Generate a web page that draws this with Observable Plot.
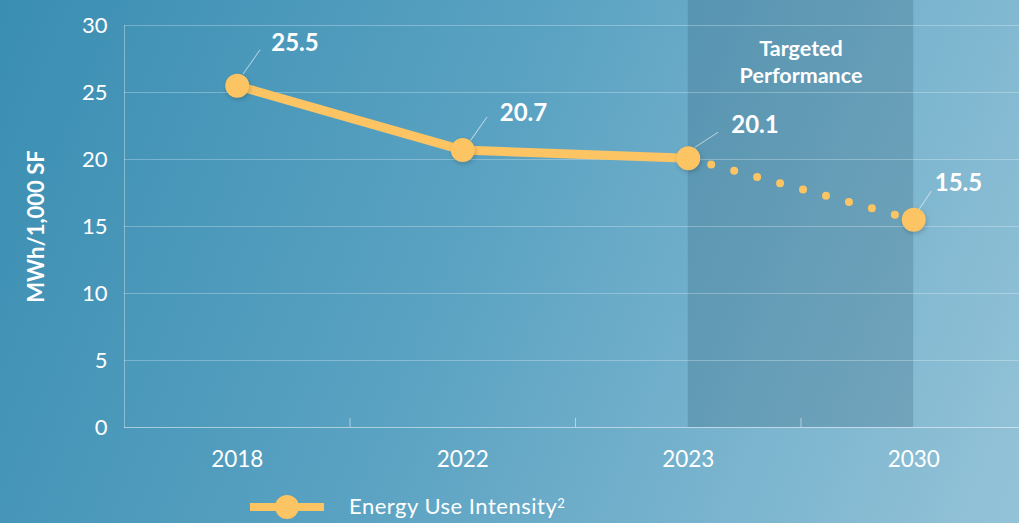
<!DOCTYPE html>
<html><head><meta charset="utf-8">
<script src="https://cdn.jsdelivr.net/npm/d3@7"></script>
<script src="https://cdn.jsdelivr.net/npm/@observablehq/plot@0.6"></script>
<style>
html,body{margin:0;padding:0;width:1019px;height:523px;overflow:hidden;}
body{background:linear-gradient(112deg,#3a8eb2 0%,#5aa2c2 45%,#94c3d8 100%);font-family:Lato,"Open Sans",sans-serif;}
#chart svg{display:block;}
g[aria-label="dot"] circle{filter:drop-shadow(1px 2px 2px rgba(0,0,0,0.18));}
#legend{position:relative;height:38px;color:#fff;}
#legend svg{position:absolute;left:248px;top:9px;}
#legend .lbl{position:absolute;left:349px;top:7px;font-size:22px;font-weight:400;letter-spacing:0.5px;line-height:28px;white-space:nowrap;}
#legend sup{font-size:13px;vertical-align:top;position:relative;top:-3px;}
</style></head><body>
<div id="chart"></div>
<div id="legend"></div>
<script>
const years = ["2018", "2022", "2023", "2030"];
const values = [25.5, 20.7, 20.1, 15.5];
const actualYears = ["2018", "2022", "2023"];
const targetYears = ["2023", "2030"];
const yTicks = [0, 5, 10, 15, 20, 25, 30];
const yLabel = "MWh/1,000 SF";
const bandLabel = ["Targeted", "Performance"];
const seriesName = "Energy Use Intensity";
const seriesNote = "2";

const gold = "#fdc463";
// per-label leader/label placement (pixels, style only)
const labelLayout = [
  {ldx: 6, ldy: -12, len: 29, rot: 35, tdx: 34, tdy: -42},
  {ldx: 8, ldy: -10, len: 28, rot: 35, tdx: 37, tdy: -37},
  {ldx: 7, ldy: -11, len: 27, rot: 57, tdx: 43, tdy: -33},
  {ldx: 5, ldy: -10, len: 22, rot: 34, tdx: 21, tdy: -36}
];

const data = years.map((year, i) => ({year, i, value: values[i]}));
const actual = data.filter(d => actualYears.includes(d.year));
const target = data.filter(d => targetYears.includes(d.year));
const t0 = years.indexOf(targetYears[0]);
const t1 = years.indexOf(targetYears[targetYears.length - 1]);

const lineShape = {draw(context, l) { context.moveTo(0, 0); context.lineTo(0, -l); }};

const leaderMarks = data.map((d, k) => {
  const L = labelLayout[k];
  return [
    Plot.vector([d], {x: "i", y: "value", anchor: "start", length: L.len, rotate: L.rot,
      dx: L.ldx, dy: L.ldy, shape: lineShape, stroke: "#fff", strokeOpacity: 0.55, strokeWidth: 1}),
    Plot.text([d], {x: "i", y: "value", text: dd => dd.value.toFixed(1), dx: L.tdx, dy: L.tdy,
      textAnchor: "start", fontSize: 24, fontWeight: "bold", fill: "#fff"})
  ];
}).flat();

const chart = Plot.plot({
  width: 1019,
  height: 485,
  marginLeft: 124,
  marginRight: 0,
  marginTop: 25,
  marginBottom: 58,
  style: {background: "transparent", color: "#fff", fontFamily: "Lato, 'Open Sans', sans-serif", overflow: "visible"},
  x: {type: "linear", domain: [-0.5, years.length - 0.5], range: [124, 1026], axis: null},
  y: {domain: [0, 30], axis: null},
  marks: [
    Plot.rect([{x1: t0, x2: t1}], {x1: "x1", x2: "x2", y1: 0, y2: 30, insetTop: -25, fill: "#1d4660", fillOpacity: 0.2}),
    Plot.ruleY(yTicks.filter(t => t > 0), {stroke: "#fff", strokeOpacity: 0.28}),
    Plot.ruleY([0], {stroke: "#fff", strokeOpacity: 0.5}),
    Plot.frame({anchor: "left", stroke: "#fff", strokeOpacity: 0.35}),
    Plot.ruleX(d3.range(1, years.length).map(i => i - 0.5), {y1: 0, y2: 0, insetTop: -9, stroke: "#fff", strokeOpacity: 0.5}),
    Plot.axisY({ticks: yTicks, tickSize: 0, tickPadding: 17, fontSize: 22, fontWeight: 400, label: null, fill: "#fff"}),
    Plot.axisX({ticks: d3.range(years.length), tickFormat: i => years[i], tickSize: 0, tickPadding: 24, fontSize: 22.5, fontWeight: 400, label: null, fill: "#fff"}),
    Plot.text([yLabel], {frameAnchor: "left", textAnchor: "middle", rotate: -90, dx: -88, fontSize: 22, fontWeight: "bold", fill: "#fff"}),
    Plot.text([bandLabel.join("\n")], {x: (t0 + t1) / 2, y: 30, dy: 35, lineHeight: 1.25, fontSize: 21.5, fontWeight: "bold", fill: "#fff"}),
    Plot.line(target, {x: "i", y: "value", stroke: gold, strokeWidth: 8, strokeDasharray: "0 23.8", strokeLinecap: "round"}),
    Plot.line(actual, {x: "i", y: "value", stroke: gold, strokeWidth: 9, strokeLinejoin: "round"}),
    ...leaderMarks,
    Plot.dot(data, {x: "i", y: "value", r: 12, fill: gold})
  ]
});
document.getElementById("chart").appendChild(chart);

const legend = document.getElementById("legend");
legend.innerHTML = `<svg width="80" height="26" viewBox="0 0 80 26">
  <line x1="2" y1="13" x2="76" y2="13" stroke="${gold}" stroke-width="8"/>
  <circle cx="39" cy="13" r="12" fill="${gold}"/></svg>
  <span class="lbl">${seriesName}<sup>${seriesNote}</sup></span>`;
</script>
</body></html>
